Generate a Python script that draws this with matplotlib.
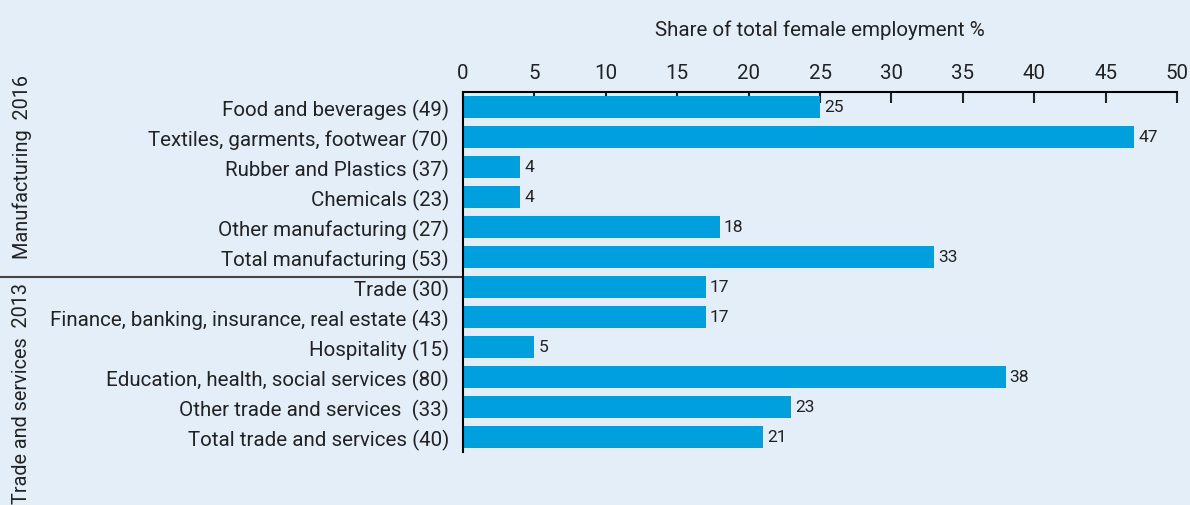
import matplotlib.pyplot as plt

categories = [
    "Food and beverages (49)",
    "Textiles, garments, footwear (70)",
    "Rubber and Plastics (37)",
    "Chemicals (23)",
    "Other manufacturing (27)",
    "Total manufacturing (53)",
    "Trade (30)",
    "Finance, banking, insurance, real estate (43)",
    "Hospitality (15)",
    "Education, health, social services (80)",
    "Other trade and services  (33)",
    "Total trade and services (40)",
]
shares = [25, 47, 4, 4, 18, 33, 17, 17, 5, 38, 23, 21]
groups = ["Manufacturing  2016", "Trade and services  2013"]
xticks = [0, 5, 10, 15, 20, 25, 30, 35, 40, 45, 50]

BG = "#E4EEF9"
BAR = "#009FDD"
INK = "#222222"

plt.rcParams["font.family"] = ["Roboto", "DejaVu Sans"]

fig = plt.figure(figsize=(11.9, 5.06), dpi=100, facecolor=BG)
ax = fig.add_axes([463 / 1190, 1 - 453 / 506, (1177 - 463) / 1190, (453 - 93) / 506])
ax.set_facecolor(BG)

y = list(range(len(categories)))
ax.barh(y, shares, height=0.73, color=BAR, zorder=2)
for yi, v in zip(y, shares):
    ax.text(v + 0.28, yi, f"{v}", va="center", ha="left", fontsize=12.5, color=INK)

ax.set_xlim(0, 50)
ax.set_ylim(len(categories) - 0.5, -0.5)
ax.set_yticks(y)
ax.set_yticklabels(categories, fontsize=14.8, color=INK)
ax.tick_params(axis="y", length=0, pad=10)

ax.xaxis.tick_top()
ax.xaxis.set_label_position("top")
ax.set_xticks(xticks)
ax.tick_params(axis="x", direction="in", length=8, width=1.5, labelsize=14.8,
               colors=INK, pad=7)
ax.set_xlabel("Share of total female employment %", fontsize=14.8, color=INK, labelpad=20)

for side in ["right", "bottom"]:
    ax.spines[side].set_visible(False)
ax.spines["top"].set_linewidth(1.5)
ax.spines["left"].set_linewidth(1.5)

# divider between the two sector groups
ax.plot([-0.65, 0], [5.65, 5.65], transform=ax.get_yaxis_transform(),
        color="#444444", lw=1.5, clip_on=False)

fig.text(22 / 1190, 1 - 167 / 506, groups[0], rotation=90, ha="center", va="center",
         fontsize=14.3, color=INK)
fig.text(22 / 1190, 1 - 394 / 506, groups[1], rotation=90, ha="center", va="center",
         fontsize=14.3, color=INK)

fig.savefig("out.png", dpi=100, facecolor=BG)
